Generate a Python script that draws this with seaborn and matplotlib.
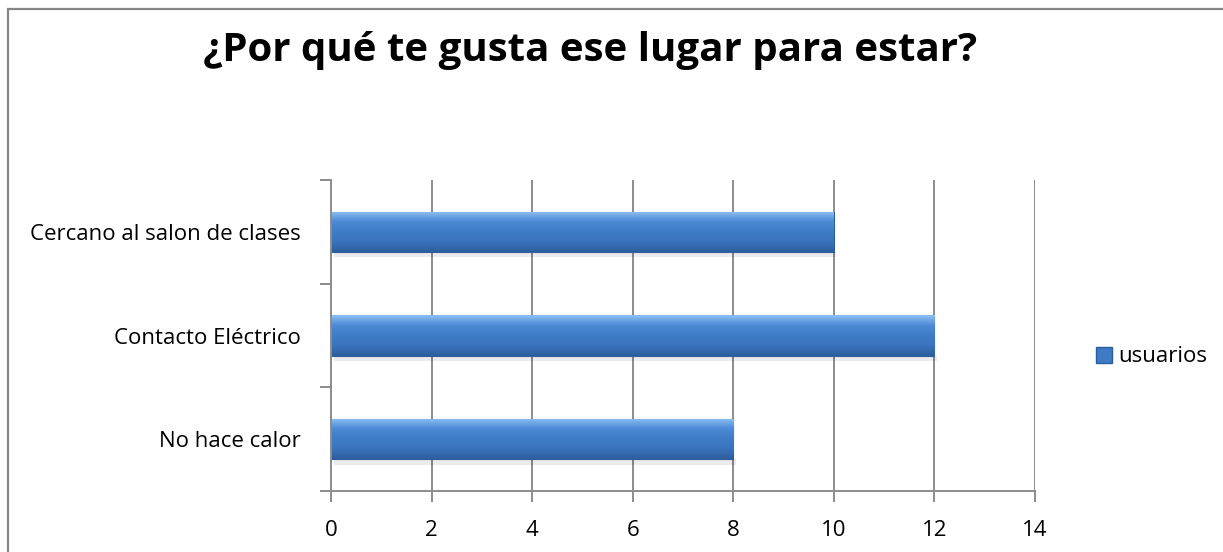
import numpy as np
import pandas as pd
import matplotlib
matplotlib.use("Agg")
import matplotlib.pyplot as plt
import seaborn as sns
from matplotlib.patches import Rectangle

# datos
categorias = ["Cercano al salon de clases", "Contacto Eléctrico", "No hace calor"]
usuarios = [10, 12, 8]
titulo = "¿Por qué te gusta ese lugar para estar?"
xticks = [0, 2, 4, 6, 8, 10, 12, 14]

df = pd.DataFrame({"categoria": categorias, "usuarios": usuarios})

sns.set_style("white")
plt.rcParams["font.family"] = ["Open Sans", "DejaVu Sans"]
plt.rcParams["text.color"] = "black"
plt.rcParams["xtick.color"] = "black"
plt.rcParams["ytick.color"] = "black"

fig = plt.figure(figsize=(12.23, 5.52), dpi=100)
ax = fig.add_axes([331 / 1223, 1 - 491 / 552, (1035 - 331) / 1223, (491 - 180) / 552])

sns.barplot(data=df, x="usuarios", y="categoria", orient="h", ax=ax,
            color="#3E7AC6", width=0.39, edgecolor="#2C5D9C", linewidth=0.8,
            label="usuarios", legend=False)

# degradado sobre cada barra
grad = np.linspace(0, 1, 64).reshape(-1, 1)
cmap = matplotlib.colors.LinearSegmentedColormap.from_list(
    "azul", ["#8CC0F2", "#4C8AD6", "#3F7CC8", "#3A74BE", "#2D5E9E"])
for p in ax.patches:
    x0, y0 = p.get_x(), p.get_y()
    w, h = p.get_width(), p.get_height()
    im = ax.imshow(grad, extent=[x0, x0 + w, y0 + h, y0], aspect="auto",
                   cmap=cmap, zorder=p.get_zorder() + 0.1)
    im.set_clip_path(p)
    # sombra ligera bajo la barra
    ax.add_patch(Rectangle((x0 + 0.05, y0 + h), w, 0.05, color="#000000",
                           alpha=0.08, zorder=p.get_zorder() - 0.1, lw=0))

ax.set_xlim(0, 14)
ax.set_ylim(2.5, -0.5)
ax.set_xticks(xticks)
ax.set_xticklabels([str(t) for t in xticks], fontsize=16)
ax.xaxis.grid(True, color="#8C8C8C", linewidth=1.4)
ax.set_axisbelow(True)
ax.set_xlabel("")
ax.set_ylabel("")

for s in ["top", "right"]:
    ax.spines[s].set_visible(False)
for s in ["left", "bottom"]:
    ax.spines[s].set_color("#8C8C8C")
    ax.spines[s].set_linewidth(1.4)

ax.tick_params(axis="x", bottom=True, direction="out", length=8, width=1.4,
               color="#8C8C8C", labelcolor="black", pad=13)
ax.set_yticks([0, 1, 2])
ax.set_yticklabels(categorias, fontsize=16)
ax.tick_params(axis="y", which="major", left=False, length=0, pad=22, labelcolor="black")
ax.set_yticks([-0.5, 0.5, 1.5, 2.5], minor=True)
ax.tick_params(axis="y", which="minor", left=True, direction="out", length=8, width=1.4,
               color="#8C8C8C")

# leyenda
handle = Rectangle((0, 0), 1, 1, facecolor="#3E7AC6", edgecolor="#2C5D9C")
fig.legend([handle], ["usuarios"], loc="center left", bbox_to_anchor=(1076 / 1223, 1 - 357 / 552),
           frameon=False, fontsize=16, handlelength=0.7, handleheight=0.7, handletextpad=0.3)

fig.text(590 / 1223, 1 - 50 / 552, titulo, ha="center", va="center",
         fontsize=29, fontweight="bold", color="black")

# borde del area del grafico
fig.patches.append(Rectangle((8 / 1223, -0.02), 1.1, 1 - 9 / 552 + 0.02,
                             transform=fig.transFigure, fill=False,
                             edgecolor="#868686", linewidth=1.6))

fig.savefig("out.png", dpi=100)
